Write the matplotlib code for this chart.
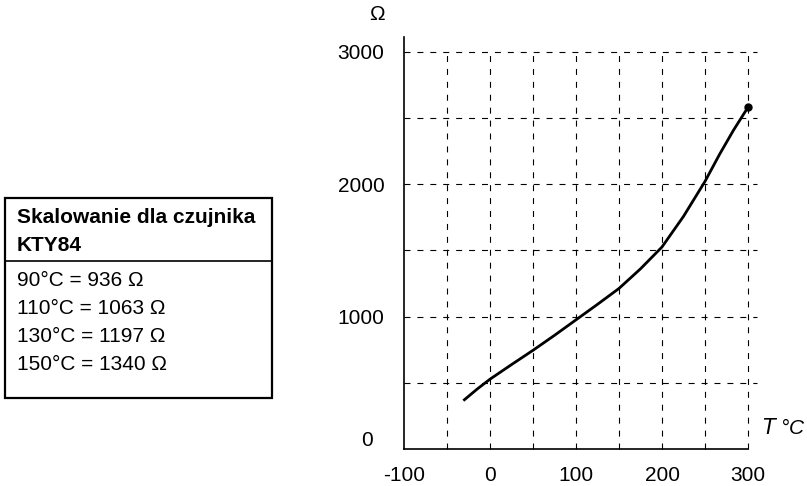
# charakterystyka czujnika KTY84: rezystancja w funkcji temperatury
import matplotlib
matplotlib.use("Agg")
import matplotlib.pyplot as plt

# dane
temperatura = [-31, -15, 0, 25, 50, 75, 100, 125, 150, 175, 200, 225, 250, 267, 283, 300]
rezystancja = [365, 452, 527, 637, 745, 858, 975, 1092, 1212, 1360, 1525, 1756, 2020, 2225, 2405, 2580]

x_siatka = [-50, 0, 50, 100, 150, 200, 250, 300]
y_siatka = [500, 1000, 1500, 2000, 2500, 3000]
x_ticki = [-100, 0, 100, 200, 300]
y_ticki = [1000, 2000, 3000]

tytul_tabeli = ["Skalowanie dla czujnika", "KTY84"]
wiersze_tabeli = [
  "90°C = 936 Ω",
  "110°C = 1063 Ω",
  "130°C = 1197 Ω",
  "150°C = 1340 Ω",
]

plt.rcParams["font.family"] = ["Liberation Sans", "DejaVu Sans"]
plt.rcParams["lines.scale_dashes"] = False
plt.rcParams["axes.unicode_minus"] = False

fig = plt.figure(figsize=(8.07, 4.86), dpi=100)
ax = fig.add_axes([404 / 807, 37 / 486, 344 / 807, 412 / 486])
ax.set_xlim(-100, 300)
ax.set_ylim(0, 3110)

kreska = (0, (4.3, 5.0))
ax.hlines(y_siatka, -100, 311, colors="black", linewidth=0.8,
          linestyles=[kreska], clip_on=False, zorder=1)
ax.vlines(x_siatka, 0, 3000, colors="black", linewidth=0.8,
          linestyles=[kreska], clip_on=False, zorder=1)

ax.plot(temperatura, rezystancja, color="black", linewidth=2.0,
        solid_capstyle="butt", solid_joinstyle="round", zorder=3)
ax.plot(temperatura[-1:], rezystancja[-1:], "o", color="black",
        markersize=5, zorder=4, clip_on=False)

for s in ("top", "right"):
  ax.spines[s].set_visible(False)
for s in ("left", "bottom"):
  ax.spines[s].set_linewidth(1.2)

ax.set_xticks(x_ticki)
ax.set_yticks(y_ticki)
ax.tick_params(length=0, labelsize=15)
ax.tick_params(axis="y", pad=14)
ax.tick_params(axis="x", pad=12)
ax.annotate("0", xy=(-100, 0), xytext=(-37, 9), textcoords="offset pixels",
            ha="center", va="center", fontsize=15)

fig.text(377 / 807, 1 - 15 / 486, "Ω", ha="center", va="center", fontsize=15)
fig.text(762 / 807, 1 - 428 / 486, "$T$ °C", ha="left", va="center",
         fontsize=15, style="italic")

# tabela skalowania
lewo, prawo, gora, dol, podzial = 5, 272, 198, 398, 261
W, H = 807, 486
ramka = plt.Rectangle((lewo / W, 1 - dol / H), (prawo - lewo) / W,
                      (dol - gora) / H, transform=fig.transFigure,
                      fill=False, edgecolor="black", linewidth=1.6)
fig.add_artist(ramka)
fig.add_artist(plt.Line2D([lewo / W, prawo / W], [1 - podzial / H] * 2,
                          transform=fig.transFigure, color="black",
                          linewidth=1.2))
for i, linia in enumerate(tytul_tabeli):
  fig.text(17 / W, 1 - (217 + i * 28) / H, linia, ha="left", va="center",
           fontsize=15, fontweight="bold")
for i, wiersz in enumerate(wiersze_tabeli):
  fig.text(17 / W, 1 - (281 + i * 27.7) / H, wiersz, ha="left",
           va="center", fontsize=15)

fig.savefig("out.png", dpi=100)
